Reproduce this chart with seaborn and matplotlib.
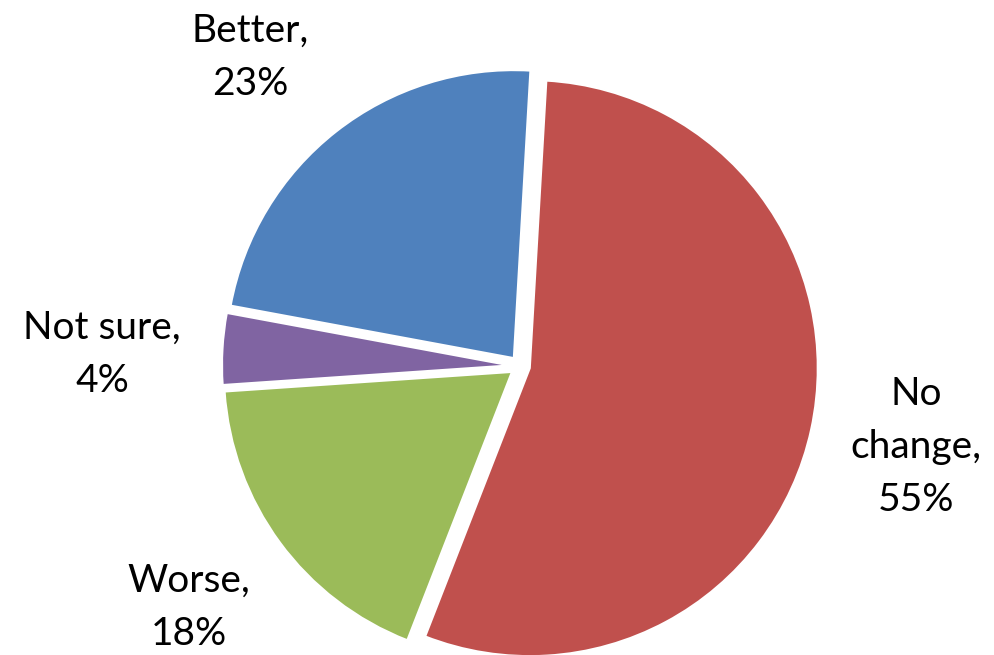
import seaborn as sns
import matplotlib.pyplot as plt

# survey answers, in the order the slices run clockwise from the top
categories = ["No\nchange", "Worse", "Not sure", "Better"]
percents = [55, 18, 4, 23]
colors = ["#C0504D", "#9BBB59", "#8064A2", "#4F81BD"]

sns.set_theme(style="white")
plt.rcParams['font.family'] = ['Lato', 'DejaVu Sans']

labels = [f"{c},\n{p}%" for c, p in zip(categories, percents)]

fig = plt.figure(figsize=(9.95, 6.55), dpi=100)
ax = fig.add_axes([0, 0, 1, 1])

# work in pixel units so the pie sits where it does in the original
wedges, texts = ax.pie(percents, labels=labels, colors=sns.color_palette(colors),
                       startangle=86.7, counterclock=False,
                       center=(520, 289), radius=288, explode=[10] * 4,
                       labeldistance=1.40,
                       wedgeprops=dict(edgecolor='white', linewidth=1.5),
                       textprops=dict(fontsize=28, color='black', ha='center',
                                      va='center', linespacing=1.6))

# nudge the labels to where Excel put them
label_pos = [(916, 208), (189, 48), (102, 301), (250, 598)]
for t, pos in zip(texts, label_pos):
    t.set_position(pos)

ax.set_xlim(0, 995)
ax.set_ylim(0, 655)
ax.set_aspect('equal')
ax.axis('off')

plt.savefig('out.png', dpi=100)
